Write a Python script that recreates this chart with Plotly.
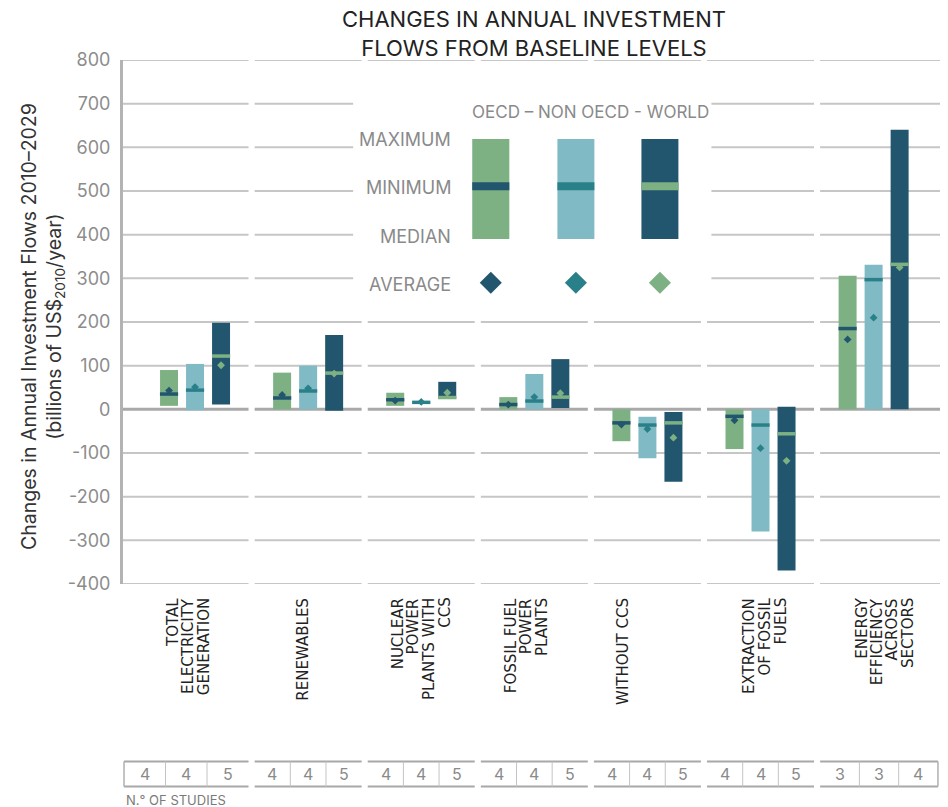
import plotly.graph_objects as go

# Categories (one label line per list item) and regions
categories = [
    ["TOTAL", "ELECTRICITY", "GENERATION"],
    ["RENEWABLES"],
    ["NUCLEAR", "POWER", "PLANTS WITH", "CCS"],
    ["FOSSIL FUEL", "POWER", "PLANTS"],
    ["WITHOUT CCS"],
    ["EXTRACTION", "OF FOSSIL", "FUELS"],
    ["ENERGY", "EFFICIENCY", "ACROSS", "SECTORS"],
]
regions = ["OECD", "NON OECD", "WORLD"]

# Changes in annual investment flows (billions of US$2010/year)
oecd_max = [90, 84, 38, 28, 0, 0, 306]
oecd_min = [8, 0, 8, 0, -73, -91, 0]
oecd_median = [35, 26, 22, 11, -31, -16, 185]
oecd_avg = [43, 33, 20, 11, -35, -25, 160]

nonoecd_max = [104, 100, 19, 81, -17, 0, 331]
nonoecd_min = [-2, 0, 13, 0, -112, -280, 0]
nonoecd_median = [44, 42, 16, 19, -36, -36, 297]
nonoecd_avg = [51, 48, 17, 28, -45, -89, 210]

world_max = [198, 170, 63, 115, -6, 6, 640]
world_min = [11, -3, 24, 3, -166, -369, 0]
world_median = [122, 83, 27, 28, -31, -56, 332]
world_avg = [101, 82, 38, 37, -65, -118, 325]

# Number of studies
oecd_studies = [4, 4, 4, 4, 4, 4, 3]
nonoecd_studies = [4, 4, 4, 4, 4, 4, 3]
world_studies = [5, 5, 5, 5, 5, 5, 4]

y_ticks = list(range(-400, 801, 100))
y_ticktext = [str(v) for v in y_ticks]  # plain hyphen minus, as in the original

# styling
GREEN = "#7DB184"
LIGHT = "#80BAC4"
DARK = "#22566E"
TEAL = "#2A8089"
bar_colors = [GREEN, LIGHT, DARK]
mark_colors = [DARK, TEAL, GREEN]
offsets = [-0.23, 0, 0.23]
BAR_W = 0.159
FONT = "Inter"

series = [
    (oecd_min, oecd_max, oecd_median, oecd_avg),
    (nonoecd_min, nonoecd_max, nonoecd_median, nonoecd_avg),
    (world_min, world_max, world_median, world_avg),
]

fig = go.Figure()
n = len(categories)

# range bars
for k, (mn, mx, md, av) in enumerate(series):
    fig.add_trace(go.Bar(
        x=[i + offsets[k] for i in range(n)],
        y=[b - a for a, b in zip(mn, mx)],
        base=mn,
        width=BAR_W,
        marker=dict(color=bar_colors[k], line_width=0),
        name=regions[k],
        showlegend=False,
    ))
# medians
for k, (mn, mx, md, av) in enumerate(series):
    fig.add_trace(go.Scatter(
        x=[i + offsets[k] for i in range(n)], y=md, mode="markers",
        marker=dict(symbol="line-ew", size=13, line=dict(color=mark_colors[k], width=3.5)),
        showlegend=False, hoverinfo="y",
    ))
# averages
for k, (mn, mx, md, av) in enumerate(series):
    fig.add_trace(go.Scatter(
        x=[i + offsets[k] for i in range(n)], y=av, mode="markers",
        marker=dict(symbol="diamond", size=6, color=mark_colors[k]),
        showlegend=False, hoverinfo="y",
    ))

X_MIN, X_MAX = -0.637, 6.587
HALF = 0.473
shapes = []
# segmented gridlines, one block per category
for i in range(n):
    x0 = X_MIN if i == 0 else i - HALF
    x1 = X_MAX if i == n - 1 else i + HALF
    for v in y_ticks:
        shapes.append(dict(
            type="line", xref="x", yref="y", x0=x0, x1=x1, y0=v, y1=v, layer="below",
            line=dict(color="#A9A9A9" if v == 0 else "#C6C6C6", width=3 if v == 0 else 2),
        ))

# legend key (white panel over the gridlines)
shapes.append(dict(type="rect", xref="x", yref="y", x0=1.398, x1=4.566, y0=245, y1=722,
                   fillcolor="white", line_width=0, layer="below"))
key_x = [(2.451, 2.779), (3.204, 3.531), (3.947, 4.274)]
for k in range(3):
    shapes.append(dict(type="rect", xref="x", yref="y", x0=key_x[k][0], x1=key_x[k][1],
                       y0=390, y1=619, fillcolor=bar_colors[k], line_width=0))
    shapes.append(dict(type="rect", xref="x", yref="y", x0=key_x[k][0], x1=key_x[k][1],
                       y0=502, y1=520, fillcolor=mark_colors[k], line_width=0))
fig.add_trace(go.Scatter(
    x=[(a + b) / 2 for a, b in key_x], y=[290, 290, 290], mode="markers",
    marker=dict(symbol="diamond", size=17, color=mark_colors), showlegend=False, hoverinfo="skip",
))

annotations = []
key_grey = "#8A8A8A"
annotations.append(dict(xref="x", yref="y", x=3.493, y=681, text="OECD – NON OECD - WORLD",
                        showarrow=False, font=dict(family=FONT, size=17, color=key_grey)))
for txt, yv in [("MAXIMUM", 617), ("MINIMUM", 507), ("MEDIAN", 395), ("AVERAGE", 287)]:
    annotations.append(dict(xref="x", yref="y", x=2.281, y=yv, text=txt, xanchor="right",
                            showarrow=False, font=dict(family=FONT, size=18, color=key_grey)))

# category labels, rotated, one annotation per line
label_shift = [-7, -6, 0, -8, -25, 4, 11]
LINE = 15.6
for i, lines in enumerate(categories):
    m = len(lines)
    for j, line in enumerate(lines):
        annotations.append(dict(
            xref="x", yref="paper", x=i, y=0, yshift=-12, xshift=label_shift[i] + (j - (m - 1) / 2) * LINE,
            text=line, textangle=-90, xanchor="center", yanchor="top", showarrow=False,
            font=dict(family="DejaVu Sans", size=15, color="#222222"),
        ))

# page-pixel -> paper helpers (plot area spans y 60..584 on the page)
PLOT_H = 524.3
def py(px):
    return (584.3 - px) / PLOT_H

# number-of-studies table
t_top, t_bot = py(762), py(787)
studies = list(zip(oecd_studies, nonoecd_studies, world_studies))
for i in range(n):
    a = -0.628 if i == 0 else i - HALF
    b = 6.569 if i == n - 1 else i + HALF
    w = (b - a) / 3
    for yv in (t_top, t_bot):
        shapes.append(dict(type="line", xref="x", yref="paper", x0=a, x1=b, y0=yv, y1=yv,
                           line=dict(color="#A8A8A8", width=2)))
    for d in (1, 2):
        shapes.append(dict(type="line", xref="x", yref="paper", x0=a + d * w, x1=a + d * w,
                           y0=t_top, y1=t_bot, line=dict(color="#C4C4C4", width=1)))
    if i == 0:
        shapes.append(dict(type="line", xref="x", yref="paper", x0=a, x1=a, y0=t_top, y1=t_bot,
                           line=dict(color="#B0B0B0", width=1.5)))
    if i == n - 1:
        shapes.append(dict(type="line", xref="x", yref="paper", x0=b, x1=b, y0=t_top, y1=t_bot,
                           line=dict(color="#B0B0B0", width=1.5)))
    for k in range(3):
        annotations.append(dict(xref="x", yref="paper", x=a + (k + 0.5) * w, y=(t_top + t_bot) / 2,
                                text=str(studies[i][k]), showarrow=False, yanchor="middle",
                                font=dict(family=FONT, size=16, color="#8A8A8A")))
annotations.append(dict(xref="x", yref="paper", x=-0.628, y=py(800), text="N.° OF STUDIES",
                        xanchor="left", yanchor="middle", showarrow=False,
                        font=dict(family=FONT, size=13, color="#7A7A7A")))

# y-axis title
annotations.append(dict(
    xref="paper", yref="paper", x=0, xshift=-81, y=0.5, yshift=-5, textangle=-90,
    text="Changes in Annual Investment Flows 2010–2029<br>(billions of US$<sub>2010</sub>/year)",
    showarrow=False, xanchor="center", yanchor="middle",
    font=dict(family=FONT, size=19.5, color="#333333"),
))

# chart title
annotations.append(dict(
    xref="paper", yref="paper", x=(533.5 - 123) / 817, y=py(33),
    text="CHANGES IN ANNUAL INVESTMENT<br>FLOWS FROM BASELINE LEVELS",
    showarrow=False, xanchor="center", yanchor="middle",
    font=dict(family=FONT, size=22, color="#222222"),
))

# the page body adds an 8px margin, so the figure is 8px smaller each way
fig.update_layout(
    width=940, height=799,
    margin=dict(l=115, r=8, t=52, b=223),
    paper_bgcolor="white", plot_bgcolor="white",
    barmode="overlay",
    xaxis=dict(range=[X_MIN, X_MAX], visible=False, fixedrange=True),
    yaxis=dict(range=[-400, 800], tickvals=y_ticks, ticktext=y_ticktext, showgrid=False,
               zeroline=False, showline=True, linecolor="#B3B3B3", linewidth=3, ticks="",
               tickfont=dict(family=FONT, size=18, color="#8C8C8C"), ticklabelstandoff=6),
    shapes=shapes,
    annotations=annotations,
    showlegend=False,
)

fig.write_html("out.html")
